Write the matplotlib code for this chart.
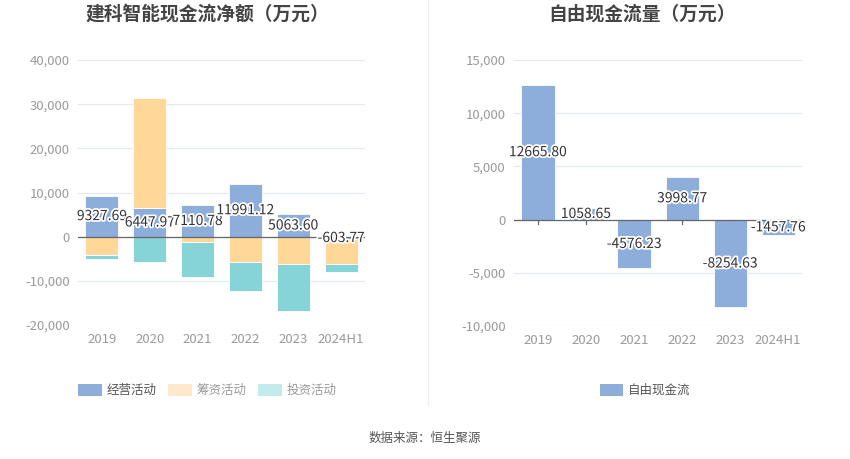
import numpy as np
import matplotlib
matplotlib.use('Agg')
import matplotlib.pyplot as plt
import matplotlib.patheffects as pe
from matplotlib.patches import Patch

plt.rcParams['font.family'] = ['Noto Sans CJK SC', 'DejaVu Sans']

years = ['2019', '2020', '2021', '2022', '2023', '2024H1']
operating = [9327.69, 6447.97, 7110.78, 11991.12, 5063.60, -603.77]
financing = [-4250, 25050, -1190, -5750, -6120, -5660]
investing = [-820, -5820, -7910, -6640, -10750, -1790]
free_cf = [12665.80, 1058.65, -4576.23, 3998.77, -8254.63, -1457.76]

c_op = '#8daedb'
c_fin = '#ffd799'
c_inv = '#87d4d8'
grid_c = '#e3e8f2'
tick_c = '#9a9a9a'

fig = plt.figure(figsize=(8.5, 4.59), dpi=100)
ax1 = fig.add_axes([0.0918, 0.292, 0.3376, 0.577])
ax2 = fig.add_axes([0.6047, 0.2898, 0.339, 0.5795])

x = np.arange(len(years))
w = 0.69
stroke = [pe.withStroke(linewidth=2.5, foreground='white')]


def stack(vals_list):
    pos = np.zeros(len(years))
    neg = np.zeros(len(years))
    out = []
    for vals in vals_list:
        v = np.array(vals, dtype=float)
        bottom = np.where(v >= 0, pos, neg)
        out.append((v, bottom))
        pos = pos + np.where(v >= 0, v, 0)
        neg = neg + np.where(v < 0, v, 0)
    return out


layers = stack([operating, financing, investing])
for (v, b), c in zip(layers, [c_op, c_fin, c_inv]):
    ax1.bar(x, v, w, bottom=b, color=c, edgecolor='white', linewidth=0.6, zorder=3)

for i, v in enumerate(operating):
    ax1.text(x[i], v / 2, f'{v:.2f}', ha='center', va='center', fontsize=10,
             color='#333333', path_effects=stroke, zorder=5)

ax2.bar(x, free_cf, w, color=c_op, edgecolor='white', linewidth=0.6, zorder=3)
for i, v in enumerate(free_cf):
    ax2.text(x[i], v / 2, f'{v:.2f}', ha='center', va='center', fontsize=10,
             color='#333333', path_effects=stroke, zorder=5)

for ax, lim, ticks in [(ax1, (-20000, 40000), np.arange(-20000, 40001, 10000)),
                       (ax2, (-10000, 15000), np.arange(-10000, 15001, 5000))]:
    ax.set_ylim(*lim)
    ax.set_yticks(ticks)
    ax.set_yticklabels([f'{t:,}' for t in ticks])
    ax.set_xlim(-0.5, len(years) - 0.5)
    ax.set_xticks(x)
    ax.set_xticklabels(years)
    ax.grid(axis='y', color=grid_c, linewidth=0.9, zorder=0)
    ax.axhline(0, color='#666666', linewidth=0.9, zorder=4)
    for s in ax.spines.values():
        s.set_visible(False)
    ax.tick_params(axis='both', length=0, colors=tick_c, labelsize=9.5, pad=6)
    ax.tick_params(axis='x', pad=6)

# small ticks on the zero line of the right chart
for xi in x:
    ax2.plot([xi, xi], [0, -450], color='#666666', linewidth=0.9, zorder=2)

fig.text(0.244, 0.970, '建科智能现金流净额（万元）', ha='center', va='center',
         fontsize=13.5, fontweight='bold', color='#444444')
fig.text(0.755, 0.970, '自由现金流量（万元）', ha='center', va='center',
         fontsize=13.5, fontweight='bold', color='#444444')

leg1 = fig.legend(handles=[Patch(facecolor=c_op, label='经营活动'),
                           Patch(facecolor='#feeacb', label='筹资活动'),
                           Patch(facecolor='#c4ebeb', label='投资活动')],
                  loc='center', bbox_to_anchor=(0.244, 0.150), ncol=3, frameon=False,
                  fontsize=9, handlelength=1.9, handleheight=1.1, columnspacing=0.9,
                  handletextpad=0.4)
for t, c in zip(leg1.get_texts(), ['#555555', '#999999', '#999999']):
    t.set_color(c)
leg2 = fig.legend(handles=[Patch(facecolor=c_op, label='自由现金流')],
                  loc='center', bbox_to_anchor=(0.759, 0.150), frameon=False,
                  fontsize=9, handlelength=1.9, handleheight=1.1, handletextpad=0.4)
for t in leg2.get_texts():
    t.set_color('#555555')

fig.add_artist(plt.Line2D([0.5035, 0.5035], [0.118, 1.0], color='#eeeeee', linewidth=0.8))

fig.text(0.5, 0.045, '数据来源：恒生聚源', ha='center', va='center', fontsize=9, color='#555555')

fig.savefig('out.png', dpi=100)
